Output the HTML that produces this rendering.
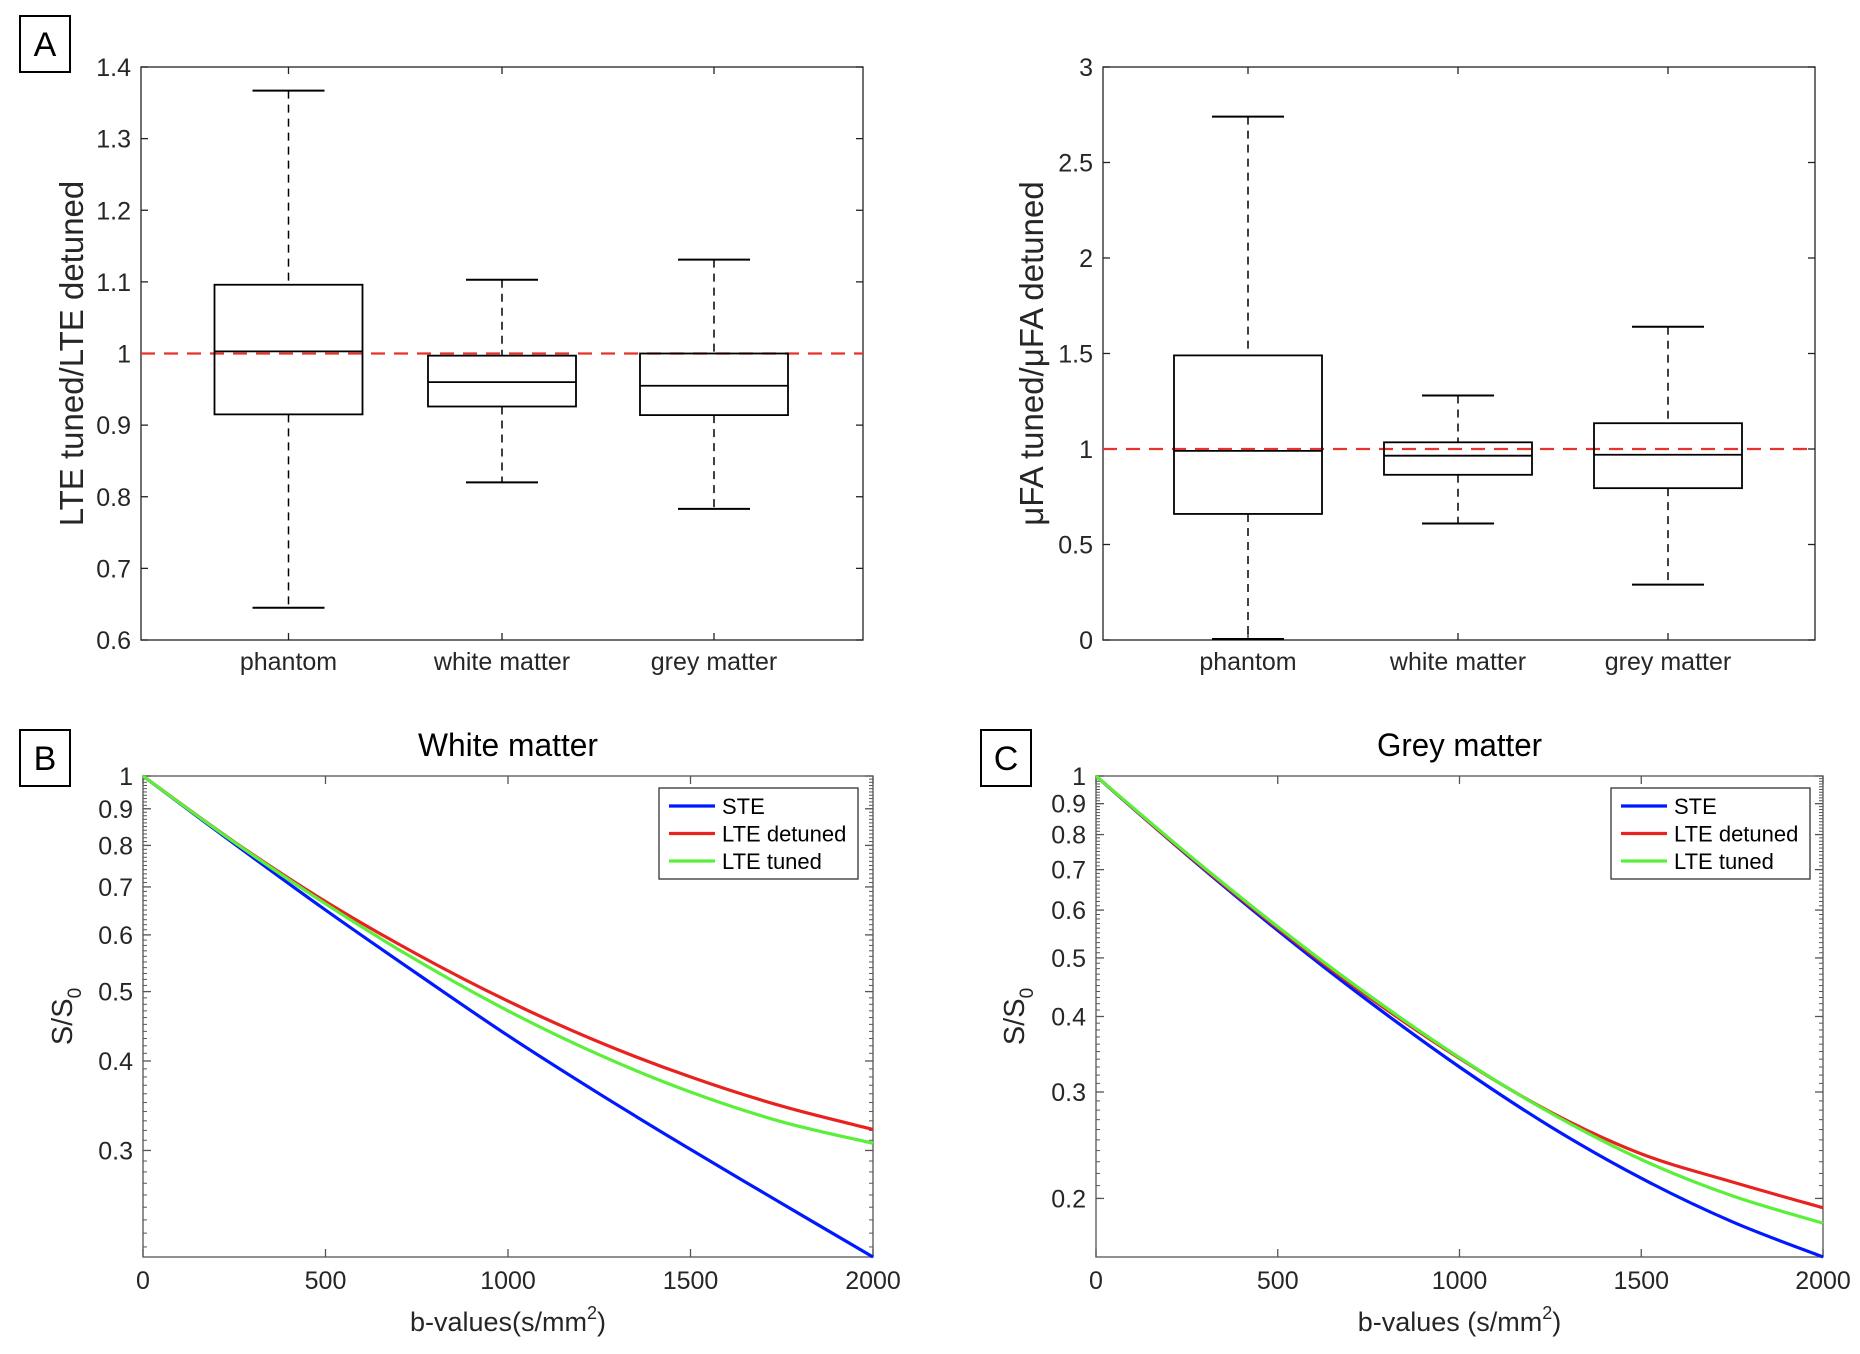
<!DOCTYPE html>
<html><head><meta charset="utf-8">
<style>
html,body{margin:0;padding:0;background:#fff;}
svg{display:block;font-family:"Liberation Sans",sans-serif;}
</style></head>
<body>
<svg id="fig" width="1860" height="1354" viewBox="0 0 1860 1354" xmlns="http://www.w3.org/2000/svg"></svg>
<script>
// ---------- Data ----------
const boxCategories = ["phantom","white matter","grey matter"];
// Panel A left: LTE tuned/LTE detuned
const lteWhiskLow  = [0.645, 0.820, 0.783];
const lteQ1        = [0.915, 0.926, 0.914];
const lteMedian    = [1.003, 0.960, 0.955];
const lteQ3        = [1.096, 0.997, 1.000];
const lteWhiskHigh = [1.367, 1.103, 1.131];
const lteTicks = ["0.6","0.7","0.8","0.9","1","1.1","1.2","1.3","1.4"];
// Panel A right: uFA tuned/uFA detuned
const faWhiskLow  = [0.005, 0.61, 0.29];
const faQ1        = [0.66, 0.865, 0.795];
const faMedian    = [0.99, 0.965, 0.97];
const faQ3        = [1.49, 1.035, 1.135];
const faWhiskHigh = [2.74, 1.28, 1.64];
const faTicks = ["0","0.5","1","1.5","2","2.5","3"];
// Panels B/C: signal decay
const bValues = [0,250,500,750,1000,1250,1500,1750,2000];
const wmSTE      = [1,0.804,0.65,0.53,0.434,0.36,0.301,0.253,0.213];
const wmDetuned  = [1,0.809,0.668,0.564,0.485,0.425,0.380,0.346,0.321];
const wmTuned    = [1,0.808,0.663,0.553,0.47,0.408,0.362,0.329,0.307];
const gmSTE      = [1,0.740,0.555,0.424,0.33,0.263,0.216,0.183,0.16];
const gmDetuned  = [1,0.742,0.56,0.431,0.341,0.278,0.237,0.213,0.193];
const gmTuned    = [1,0.745,0.563,0.434,0.342,0.277,0.232,0.202,0.182];
const xTicks = ["0","500","1000","1500","2000"];
const logTicksWM = ["0.3","0.4","0.5","0.6","0.7","0.8","0.9","1"];
const logTicksGM = ["0.2","0.3","0.4","0.5","0.6","0.7","0.8","0.9","1"];
const seriesNames = ["STE","LTE detuned","LTE tuned"];
const seriesColors = ["#0019ff","#e8231f","#5af03a"];

const NS="http://www.w3.org/2000/svg";
const svg=document.getElementById('fig');
function el(tag,attrs,parent){const e=document.createElementNS(NS,tag);for(const k in attrs)e.setAttribute(k,attrs[k]);(parent||svg).appendChild(e);return e;}
function txt(s,attrs,parent){const e=el('text',attrs,parent);e.textContent=s;return e;}

function panelLabel(letter,x,y,w,h){
  const g=el('g',{});
  
  
  el('rect',{x:x,y:y,width:w,height:h,fill:'#fff',stroke:'#000','stroke-width':2},g);
  txt(letter,{x:x+w/2,y:y+h/2+12,'font-size':34,'text-anchor':'middle',fill:'#000'},g);
}
panelLabel('A',20,16,50,56);
panelLabel('B',20,730,50,56);
panelLabel('C',981,730,50,56);

function boxPlot(name,L,R,T,B,ymin,ymax,ticks,lo,q1,med,q3,hi,catX,ylabel,ylabX){
  const g=el('g',{});
  
  
  const Y=v=>B-(v-ymin)/(ymax-ymin)*(B-T);
  el('rect',{x:L,y:T,width:R-L,height:B-T,fill:'none',stroke:'#222','stroke-width':1.3},g);
  ticks.forEach(t=>{
    const y=Y(parseFloat(t));
    el('line',{x1:L,y1:y,x2:L+7,y2:y,stroke:'#222','stroke-width':1.3},g);
    el('line',{x1:R,y1:y,x2:R-7,y2:y,stroke:'#222','stroke-width':1.3},g);
    const tl=txt(t,{x:L-10,y:y+9,'font-size':25,'text-anchor':'end',fill:'#262626'},g);
    
    
  });
  const ref=el('line',{x1:L,y1:Y(1),x2:R,y2:Y(1),stroke:'#e8332c','stroke-width':2.2,'stroke-dasharray':'14,9'},g);
  
  
  boxCategories.forEach((c,i)=>{
    const cx=catX[i];
    el('line',{x1:cx,y1:B,x2:cx,y2:B-7,stroke:'#222','stroke-width':1.3},g);
    el('line',{x1:cx,y1:T,x2:cx,y2:T+7,stroke:'#222','stroke-width':1.3},g);
    const b=el('g',{},g);
    
    
    el('line',{x1:cx,y1:Y(hi[i]),x2:cx,y2:Y(q3[i]),stroke:'#000','stroke-width':1.5,'stroke-dasharray':'8,6'},b);
    el('line',{x1:cx,y1:Y(q1[i]),x2:cx,y2:Y(lo[i]),stroke:'#000','stroke-width':1.5,'stroke-dasharray':'8,6'},b);
    el('line',{x1:cx-36,y1:Y(hi[i]),x2:cx+36,y2:Y(hi[i]),stroke:'#000','stroke-width':2},b);
    el('line',{x1:cx-36,y1:Y(lo[i]),x2:cx+36,y2:Y(lo[i]),stroke:'#000','stroke-width':2},b);
    el('rect',{x:cx-74,y:Y(q3[i]),width:148,height:Y(q1[i])-Y(q3[i]),fill:'none',stroke:'#000','stroke-width':1.8},b);
    el('line',{x1:cx-74,y1:Y(med[i]),x2:cx+74,y2:Y(med[i]),stroke:'#000','stroke-width':1.8},b);
    const cl=txt(c,{x:cx,y:B+30,'font-size':25,'text-anchor':'middle',fill:'#262626'},g);
    
    
  });
  const yl=txt(ylabel,{x:0,y:0,'font-size':33,'text-anchor':'middle',fill:'#262626',transform:`translate(${ylabX},${(T+B)/2}) rotate(-90)`},g);
  
  
}
boxPlot('boxplot-lte',141,863,67,640,0.6,1.4,lteTicks,lteWhiskLow,lteQ1,lteMedian,lteQ3,lteWhiskHigh,[288.5,502,714],'LTE tuned/LTE detuned',83);
boxPlot('boxplot-ufa',1103,1815,67,640,0,3,faTicks,faWhiskLow,faQ1,faMedian,faQ3,faWhiskHigh,[1248,1458,1668],'\u03BCFA tuned/\u03BCFA detuned',1043);

function smoothPath(pts){
  let d='M'+pts[0][0].toFixed(1)+','+pts[0][1].toFixed(1);
  for(let i=0;i<pts.length-1;i++){
    const p0=pts[Math.max(i-1,0)],p1=pts[i],p2=pts[i+1],p3=pts[Math.min(i+2,pts.length-1)];
    const c1=[p1[0]+(p2[0]-p0[0])/6,p1[1]+(p2[1]-p0[1])/6];
    const c2=[p2[0]-(p3[0]-p1[0])/6,p2[1]-(p3[1]-p1[1])/6];
    d+=` C${c1[0].toFixed(1)},${c1[1].toFixed(1)} ${c2[0].toFixed(1)},${c2[1].toFixed(1)} ${p2[0].toFixed(1)},${p2[1].toFixed(1)}`;
  }
  return d;
}

function logPlot(name,L,R,T,B,ymin,ticks,series,title,xlabel,legX,labX){
  const g=el('g',{});
  
  
  const X=v=>L+v/2000*(R-L);
  const Y=v=>T+Math.log(1/v)/Math.log(1/ymin)*(B-T);
  el('rect',{x:L,y:T,width:R-L,height:B-T,fill:'none',stroke:'#555','stroke-width':1.3},g);
  for(let v=0.2;v<=1.0001;v+=0.01){
    if(v<ymin)continue;
    const y=Y(v);
    el('line',{x1:L,y1:y,x2:L+4,y2:y,stroke:'#555','stroke-width':1},g);
    el('line',{x1:R,y1:y,x2:R-4,y2:y,stroke:'#555','stroke-width':1},g);
  }
  ticks.forEach(t=>{
    const y=Y(parseFloat(t));
    el('line',{x1:L,y1:y,x2:L+8,y2:y,stroke:'#555','stroke-width':1.3},g);
    el('line',{x1:R,y1:y,x2:R-8,y2:y,stroke:'#555','stroke-width':1.3},g);
    const tl=txt(t,{x:L-10,y:y+9,'font-size':25,'text-anchor':'end',fill:'#262626'},g);
    
    
  });
  xTicks.forEach(t=>{
    const x=X(parseFloat(t));
    el('line',{x1:x,y1:B,x2:x,y2:B-8,stroke:'#555','stroke-width':1.3},g);
    el('line',{x1:x,y1:T,x2:x,y2:T+8,stroke:'#555','stroke-width':1.3},g);
    const tl=txt(t,{x:x,y:B+32,'font-size':25,'text-anchor':'middle',fill:'#262626'},g);
    
    
  });
  series.forEach((s,i)=>{
    const pts=bValues.map((b,j)=>[X(b),Y(Math.max(s[j],ymin))]);
    const p=el('path',{d:smoothPath(pts),fill:'none',stroke:seriesColors[i],'stroke-width':3.2,'stroke-linejoin':'round'},g);
    
    
  });
  const tt=txt(title,{x:(L+R)/2,y:T-20,'font-size':32,'text-anchor':'middle',fill:'#000',textLength:title.length*15,lengthAdjust:'spacingAndGlyphs'},g);
  
  
  const xl=el('text',{x:(L+R)/2,y:B+74,'font-size':27,'text-anchor':'middle',fill:'#262626'},g);
  
  
  xl.appendChild(document.createTextNode(xlabel));
  const sup=el('tspan',{'font-size':18,dy:-12},xl);sup.textContent='2';
  const cl=el('tspan',{dy:12},xl);cl.textContent=')';
  const yl=el('text',{x:0,y:0,'font-size':29,'text-anchor':'middle',fill:'#262626',transform:`translate(${labX},${(T+B)/2}) rotate(-90)`},g);
  
  
  yl.appendChild(document.createTextNode('S/S'));
  const sub=el('tspan',{'font-size':19,dy:9},yl);sub.textContent='0';
  const lg=el('g',{},g);
  
  
  el('rect',{x:legX,y:788,width:199,height:91,fill:'#fff',stroke:'#333','stroke-width':1.3},lg);
  seriesNames.forEach((n,i)=>{
    const y=806+i*27.5;
    const e=el('g',{},lg);
    
    
    el('line',{x1:legX+10,y1:y,x2:legX+56,y2:y,stroke:seriesColors[i],'stroke-width':3.2},e);
    txt(n,{x:legX+63,y:y+8,'font-size':22,fill:'#000'},e);
  });
}
logPlot('chart-white-matter',143,873,776,1257,0.213,logTicksWM,[wmSTE,wmDetuned,wmTuned],'White matter','b-values(s/mm',659,72);
logPlot('chart-grey-matter',1096,1823,776,1257,0.16,logTicksGM,[gmSTE,gmDetuned,gmTuned],'Grey matter','b-values (s/mm',1611,1024);
</script>
</body></html>
